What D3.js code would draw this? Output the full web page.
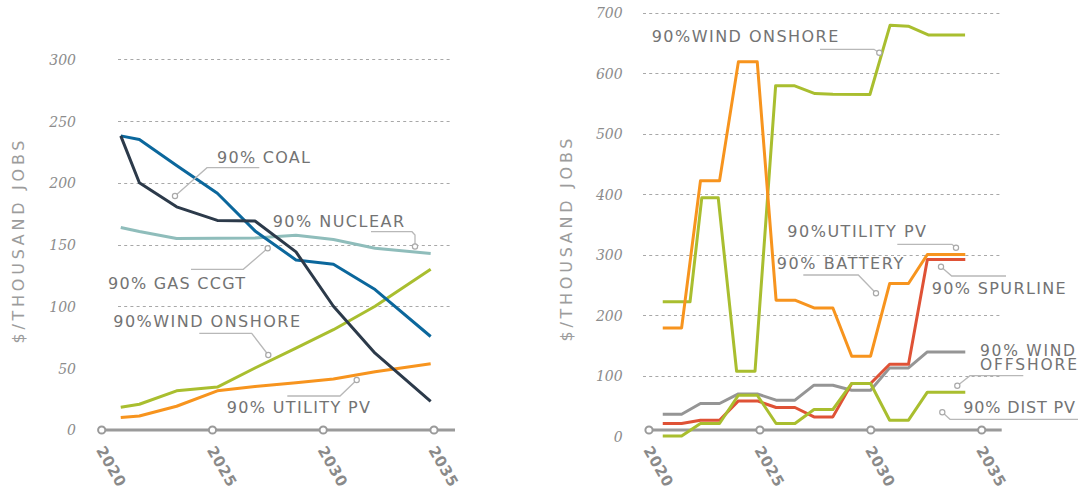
<!DOCTYPE html>
<html>
<head>
<meta charset="utf-8">
<script src="https://cdn.jsdelivr.net/npm/d3@7/dist/d3.min.js"></script>
<style>
  html, body { margin: 0; padding: 0; background: #fff; }
  svg { display: block; }
</style>
</head>
<body>
<svg id="chart" width="1078" height="486"></svg>
<script>
// ---------- data: left panel (existing technologies) ----------
const leftYears      = [2020.86, 2021.70, 2023.38, 2025.22, 2026.92, 2028.77, 2030.46, 2032.34, 2034.85];
const coal           = [238, 200, 180.5, 169.5, 169, 144, 100, 62, 23];
const gasCcgt        = [238, 235, 214, 191.5, 161, 137.5, 134, 113.5, 75.5];
const nuclear        = [163.7, 160.5, 154.8, 155, 155.3, 157.5, 154, 147, 142.8];
const windOnshoreL   = [18.2, 20.6, 31.5, 34.5, 50, 66, 81, 100, 130];
const utilityPvL     = [9.8, 11.1, 19, 31.5, 35, 38, 41, 47, 53.4];
const leftTicks      = [0, 50, 100, 150, 200, 250, 300];
const leftGrid       = [100, 150, 200, 250, 300];

// ---------- data: right panel (new build) ----------
const rightYears     = [2020.62, 2021.47, 2022.32, 2023.18, 2024.03, 2024.88, 2025.73, 2026.58, 2027.44,
                        2028.29, 2029.14, 2029.99, 2030.85, 2031.70, 2032.55, 2033.40, 2034.26];
const utilityPvR     = [178.7, 178.7, 421.7, 421.7, 618.4, 618.4, 224.5, 224.5, 211.7, 211.7, 131.9, 131.9, 252, 252, 300, 300, 300];
const spurline       = [20.7, 20.7, 26.1, 26.1, 58, 58, 47.1, 47.1, 31.6, 31.6, 86.8, 86.8, 118.7, 118.7, 291.7, 291.7, 291.7];
const windOffshore   = [36, 36, 53.7, 53.7, 69.6, 69.6, 59.2, 59.2, 84, 84, 75.7, 75.7, 112.6, 112.6, 139, 139, 139];
const distPv         = [0, 0, 20.7, 20.7, 67.4, 67.4, 20.7, 20.7, 43.8, 43.8, 86.8, 86.8, 26.1, 26.1, 72.4, 72.4, 72.4];
const windOnshoreRYears = [2020.62, 2021.85, 2022.38, 2023.12, 2023.95, 2024.78, 2025.71, 2026.54, 2027.48,
                           2028.29, 2029.96, 2030.87, 2031.69, 2032.59, 2034.25];
const windOnshoreR   = [221.7, 221.7, 394, 394, 107, 107, 579, 579, 566, 565, 564.5, 679, 677.4, 663, 663];
const rightTicks     = [0, 100, 200, 300, 400, 500, 600, 700];
const rightGrid      = [100, 200, 300, 400, 500, 600, 700];

const yearTicks      = [2020, 2025, 2030, 2035];
const axisTitle      = "$/THOUSAND JOBS";

// ---------- styles ----------
const C = {
  coal: "#2c3a4a", gas: "#0b679c", nuclear: "#8fbdbb", wind: "#a9be2f",
  orange: "#f7941e", red: "#df5236", gray: "#959595",
  grid: "#a8a8a8", axis: "#9a9a9a", text: "#737373", tick: "#8c8c8c", leader: "#b8b8b8"
};
const LABEL_FONT = "'DejaVu Sans', sans-serif";
const TICK_FONT = "'DejaVu Serif', serif";

const svg = d3.select("#chart");

function panel(cfg) {
  const g = svg.append("g");
  const x = d3.scaleLinear().domain([2020, 2035]).range(cfg.xRange);
  const y = d3.scaleLinear().domain(cfg.yDomain).range(cfg.yRange);

  // dashed gridlines
  g.append("g").selectAll("line").data(cfg.grid).join("line")
    .attr("x1", cfg.gridX[0]).attr("x2", cfg.gridX[1])
    .attr("y1", d => Math.round(y(d)) + 0.5).attr("y2", d => Math.round(y(d)) + 0.5)
    .attr("stroke", C.grid).attr("stroke-width", 1).attr("stroke-dasharray", "3,3.2");

  // y tick labels (italic serif)
  const yAxis = d3.axisLeft(y).tickValues(cfg.ticks).tickSize(0).tickFormat(d3.format("d"));
  const ya = g.append("g").attr("transform", `translate(${cfg.tickRight},0)`).call(yAxis);
  ya.select(".domain").remove();
  ya.selectAll("text")
    .attr("x", 0).attr("dy", "0.36em")
    .style("font-family", TICK_FONT).style("font-style", "italic")
    .style("font-size", "14px").attr("fill", C.tick);

  // axis title
  g.append("text")
    .attr("transform", `translate(${cfg.titleX},${cfg.titleY}) rotate(-90)`)
    .attr("text-anchor", "middle")
    .attr("textLength", 203).attr("lengthAdjust", "spacing")
    .style("font-family", LABEL_FONT).style("font-size", "16px")
    .attr("fill", "#9c9c9c").text(axisTitle);

  // baseline axis with hollow year markers
  g.append("line")
    .attr("x1", cfg.axisX[0]).attr("x2", cfg.axisX[1])
    .attr("y1", cfg.axisY).attr("y2", cfg.axisY)
    .attr("stroke", C.axis).attr("stroke-width", 3);
  g.append("g").selectAll("circle").data(yearTicks).join("circle")
    .attr("cx", d => x(d)).attr("cy", cfg.axisY).attr("r", 3.6)
    .attr("fill", "#fff").attr("stroke", C.axis).attr("stroke-width", 2);
  g.append("g").selectAll("text").data(yearTicks).join("text")
    .attr("transform", d => `translate(${x(d) - 6},${cfg.axisY + 20}) rotate(60)`)
    .style("font-family", LABEL_FONT).style("font-weight", "bold")
    .style("font-size", "15px").style("letter-spacing", "0.6px")
    .attr("fill", "#8a8a8a").text(d => d);

  // series
  const line = d3.line().x(d => x(d[0])).y(d => y(d[1]));
  cfg.series.forEach(s => {
    g.append("path")
      .datum(s.years.map((yr, i) => [yr, s.values[i]]))
      .attr("d", line).attr("fill", "none")
      .attr("stroke", s.color).attr("stroke-width", 3)
      .attr("stroke-linejoin", "round");
  });

  // annotations with leader lines
  cfg.labels.forEach(l => {
    g.append("polyline")
      .attr("points", l.leader.map(p => p.join(",")).join(" "))
      .attr("fill", "none").attr("stroke", C.leader).attr("stroke-width", 1.3);
    const dot = l.leader[l.dot];
    g.append("circle").attr("cx", dot[0]).attr("cy", dot[1]).attr("r", 2.6)
      .attr("fill", "#fff").attr("stroke", "#a9a9a9").attr("stroke-width", 1.2);
    l.lines.forEach(t => {
      g.append("text").attr("x", t.x).attr("y", t.y)
        .attr("textLength", t.len).attr("lengthAdjust", "spacing")
        .style("font-family", LABEL_FONT).style("font-size", t.size || "16px")
        .attr("fill", C.text).text(t.text);
    });
  });
}

panel({
  xRange: [101.7, 434], yDomain: [0, 300], yRange: [429.7, 59.3],
  grid: leftGrid, gridX: [118, 451], ticks: leftTicks, tickRight: 76,
  titleX: 23.5, titleY: 242,
  axisX: [100, 455], axisY: 430,
  series: [
    { years: leftYears, values: nuclear, color: C.nuclear },
    { years: leftYears, values: windOnshoreL, color: C.wind },
    { years: leftYears, values: utilityPvL, color: C.orange },
    { years: leftYears, values: gasCcgt, color: C.gas },
    { years: leftYears, values: coal, color: C.coal }
  ],
  labels: [
    { lines: [{ text: "90% COAL", x: 217, y: 163, len: 93 }],
      leader: [[259.3, 167.7], [207, 167.7], [175, 196]], dot: 2 },
    { lines: [{ text: "90% NUCLEAR", x: 272.7, y: 226.5, len: 131.3 }],
      leader: [[371, 231.7], [412, 231.7], [415, 235], [415, 246.5]], dot: 3 },
    { lines: [{ text: "90% GAS CCGT", x: 108, y: 289, len: 137 }],
      leader: [[191, 269.3], [243.3, 269.3], [267.7, 248.3]], dot: 2 },
    { lines: [{ text: "90%WIND ONSHORE", x: 113.3, y: 327, len: 186.7 }],
      leader: [[199.3, 333.3], [251.7, 333.3], [268.3, 355]], dot: 2 },
    { lines: [{ text: "90% UTILITY PV", x: 226.7, y: 412.5, len: 143.3 }],
      leader: [[287.3, 396], [340, 396], [356.7, 380]], dot: 2 }
  ]
});

panel({
  xRange: [649, 981.7], yDomain: [0, 700], yRange: [436, 12.5],
  grid: rightGrid, gridX: [643, 1000], ticks: rightTicks, tickRight: 622.7,
  titleX: 571.5, titleY: 240,
  axisX: [646, 1001.7], axisY: 430,
  series: [
    { years: rightYears, values: windOffshore, color: C.gray },
    { years: rightYears, values: spurline, color: C.red },
    { years: rightYears, values: distPv, color: C.wind },
    { years: windOnshoreRYears, values: windOnshoreR, color: C.wind },
    { years: rightYears, values: utilityPvR, color: C.orange }
  ],
  labels: [
    { lines: [{ text: "90%WIND ONSHORE", x: 651.7, y: 41.7, len: 186.6 }],
      leader: [[820, 49.3], [874, 49.3], [879.3, 52.7]], dot: 2 },
    { lines: [{ text: "90%UTILITY PV", x: 787.3, y: 237.3, len: 138.7 }],
      leader: [[897.3, 244.3], [952, 244.3], [956, 247.7]], dot: 2 },
    { lines: [{ text: "90% BATTERY", x: 776.7, y: 268.5, len: 126.6 }],
      leader: [[803.3, 275], [858.3, 275], [876, 293.3]], dot: 2 },
    { lines: [{ text: "90% SPURLINE", x: 931.7, y: 294, len: 134 }],
      leader: [[941, 266.7], [951.7, 276], [1006, 276]], dot: 0 },
    { lines: [{ text: "90% WIND", x: 980, y: 356, len: 95, size: "15.5px" },
              { text: "OFFSHORE", x: 980, y: 370, len: 97, size: "15.5px" }],
      leader: [[957.3, 385.7], [970, 375.7], [1023.3, 375.7]], dot: 0 },
    { lines: [{ text: "90% DIST PV", x: 963.3, y: 413.3, len: 111.7 }],
      leader: [[942.3, 412.3], [950, 419.3], [1078, 419.3]], dot: 0 }
  ]
});
</script>
</body>
</html>
